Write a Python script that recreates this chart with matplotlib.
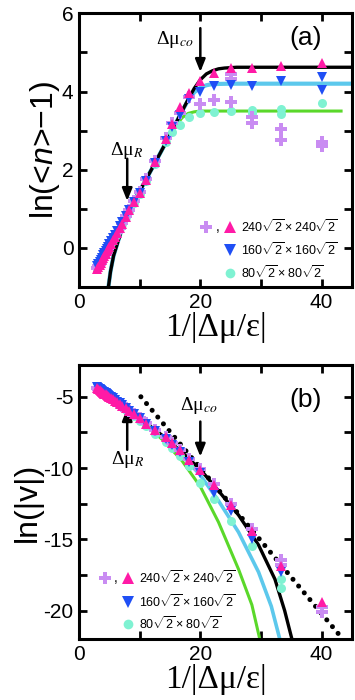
import matplotlib
matplotlib.use("Agg")
import matplotlib.pyplot as plt
from matplotlib.ticker import MultipleLocator

plt.rcParams['font.family'] = ['Liberation Sans', 'DejaVu Sans']
plt.rcParams['mathtext.fontset'] = 'custom'
plt.rcParams['mathtext.rm'] = 'Liberation Sans'
plt.rcParams['mathtext.it'] = 'Liberation Sans:italic'
plt.rcParams['mathtext.bf'] = 'Liberation Sans:bold'
plt.rcParams['axes.unicode_minus'] = False

# ---------------- data: panel (a) ----------------
x_pts = [3.0, 3.2, 3.4, 3.6, 3.8, 4.0, 4.2, 4.4, 4.6, 4.8, 5.0, 5.3, 5.6, 5.9, 6.3, 6.7, 7.1,
         7.7, 8.3, 9.1, 10.0, 11.1, 12.5, 14.3, 15.4, 16.7, 18.2, 20.0, 22.2, 25.0, 28.6, 33.3, 40.0]

pink_a = [-0.55, -0.49, -0.44, -0.38, -0.32, -0.27, -0.21, -0.15, -0.09, -0.04, 0.02, 0.11, 0.19,
          0.28, 0.39, 0.50, 0.62, 0.79, 0.96, 1.17, 1.40, 1.73, 2.20, 2.78, 3.18, 3.60, 3.95,
          4.28, 4.48, 4.60, 4.60, 4.65, 4.72]
blue_a = [-0.47, -0.42, -0.36, -0.30, -0.25, -0.19, -0.14, -0.08, -0.02, 0.03, 0.09, 0.17, 0.25,
          0.33, 0.44, 0.55, 0.66, 0.82, 0.98, 1.18, 1.40, 1.72, 2.18, 2.74, 3.10, 3.40, 3.80,
          4.00, 4.13, 4.17, 4.13, 4.26, 4.38]
blue_a_extra_x = [40.0]
blue_a_extra_y = [4.04]
cyan_a = [-0.53, -0.47, -0.42, -0.36, -0.30, -0.25, -0.19, -0.13, -0.07, -0.02, 0.04, 0.12, 0.20,
          0.29, 0.40, 0.51, 0.62, 0.78, 0.95, 1.15, 1.38, 1.70, 2.15, 2.70, 2.97, 3.15, 3.35,
          3.45, 3.47, 3.49, 3.53, 3.55, 3.70]
cyan_a_extra_x = [28.6, 33.3]
cyan_a_extra_y = [3.45, 3.43]
purple_a = [-0.52, -0.46, -0.41, -0.35, -0.29, -0.24, -0.18, -0.12, -0.06, -0.01, 0.05, 0.13, 0.21,
            0.30, 0.41, 0.52, 0.64, 0.81, 0.98, 1.19, 1.42, 1.75, 2.22, 2.80, 3.20, 3.45, 3.85,
            3.68, 3.79, 4.45, 3.35, 3.03, 2.72]
purple_a_extra_x = [25.0, 25.0, 28.6, 33.3, 40.0]
purple_a_extra_y = [4.32, 3.74, 3.19, 2.76, 2.60]

# model curves (a)
black_a_x = [4.85, 5.2, 5.7, 6.5, 7.3, 8.2, 10.0, 12.0, 14.0, 16.0, 18.0, 19.0, 20.0, 21.0, 22.0, 23.0, 24.0, 26.0, 45.0]
black_a_y = [-1.0, -0.6, -0.2, 0.2, 0.6, 0.98, 1.45, 2.02, 2.6, 3.2, 3.8, 4.08, 4.3, 4.45, 4.53, 4.58, 4.6, 4.62, 4.62]
cyan_a_cx = [4.85, 5.2, 5.7, 6.5, 7.3, 8.2, 10.0, 12.0, 14.0, 16.0, 17.0, 18.0, 19.0, 20.0, 21.0, 22.0, 25.0, 45.0]
cyan_a_cy = [-1.0, -0.6, -0.2, 0.2, 0.6, 0.98, 1.45, 2.02, 2.6, 3.2, 3.5, 3.78, 3.98, 4.1, 4.16, 4.19, 4.2, 4.2]
green_a_cx = [4.85, 5.2, 5.7, 6.5, 7.3, 8.2, 10.0, 12.0, 14.0, 15.0, 16.0, 17.0, 18.0, 19.0, 20.0, 22.0, 43.2]
green_a_cy = [-1.0, -0.6, -0.2, 0.2, 0.6, 0.98, 1.45, 2.02, 2.58, 2.88, 3.13, 3.33, 3.44, 3.48, 3.5, 3.5, 3.5]

# ---------------- data: panel (b) ----------------
pink_b = [-4.42, -4.48, -4.54, -4.60, -4.66, -4.72, -4.78, -4.84, -4.90, -4.95, -5.01, -5.10, -5.19,
          -5.28, -5.40, -5.52, -5.64, -5.82, -5.99, -6.23, -6.50, -6.88, -7.33, -7.84, -8.26, -8.72,
          -9.42, -10.16, -11.16, -12.56, -14.42, -16.86, -19.42]
blue_b = [-4.32, -4.39, -4.45, -4.52, -4.58, -4.64, -4.70, -4.76, -4.82, -4.88, -4.94, -5.03, -5.12,
          -5.22, -5.34, -5.47, -5.60, -5.78, -5.97, -6.22, -6.52, -6.92, -7.42, -7.95, -8.40, -8.90,
          -9.60, -10.35, -11.74, -13.00, -14.97, -17.30]
cyan_b = [-4.44, -4.50, -4.56, -4.62, -4.68, -4.74, -4.80, -4.86, -4.92, -4.98, -5.04, -5.13, -5.23,
          -5.32, -5.45, -5.58, -5.71, -5.90, -6.10, -6.37, -6.68, -7.08, -7.62, -8.18, -8.62, -9.18,
          -9.88, -11.04, -12.20, -13.70, -15.50, -17.80]
cyan_b_extra_x = [33.3]
cyan_b_extra_y = [-18.40]
purple_b = [-4.40, -4.46, -4.52, -4.58, -4.64, -4.70, -4.76, -4.82, -4.88, -4.93, -4.99, -5.08, -5.17,
            -5.26, -5.38, -5.50, -5.62, -5.80, -5.97, -6.21, -6.48, -6.86, -7.31, -7.82, -8.24, -8.70,
            -9.40, -10.10, -11.10, -12.50, -14.30, -16.45, -19.75]
purple_b_extra_x = [33.3, 40.0]
purple_b_extra_y = [-16.80, -20.10]

black_b_x = [3.0, 6.0, 10.0, 14.0, 17.0, 20.0, 23.0, 26.3, 29.6, 32.3, 33.9, 35.1]
black_b_y = [-4.4, -5.3, -6.5, -7.8, -8.9, -10.1, -11.6, -13.3, -15.4, -17.8, -20.0, -22.0]
cyan_b_cx = [3.0, 6.0, 10.0, 14.0, 17.0, 20.0, 23.0, 26.3, 29.6, 31.7, 33.1]
cyan_b_cy = [-4.4, -5.3, -6.55, -7.9, -9.1, -10.5, -12.3, -14.5, -17.3, -19.7, -22.0]
green_b_cx = [3.0, 6.0, 10.0, 14.0, 17.0, 20.0, 23.0, 26.3, 28.5, 29.8]
green_b_cy = [-4.4, -5.3, -6.6, -8.1, -9.5, -11.3, -13.8, -17.1, -19.6, -22.0]
dotted_b_x = [10.2, 43.1]
dotted_b_y = [-5.0, -21.8]

legend_labels = [r'$240\sqrt{2}\times240\sqrt{2}$', r'$160\sqrt{2}\times160\sqrt{2}$',
                 r'$80\sqrt{2}\times80\sqrt{2}$']

# ---------------- styles ----------------
C_PINK = '#ff1aa6'
C_BLUE = '#1f4ff5'
C_CYAN = '#7ff2d2'
C_PURP = '#c98cf2'
C_LCYAN = '#5cc8ec'
C_GREEN = '#5ad82a'

fig = plt.figure(figsize=(3.55, 7.0), dpi=100)
ax_a = fig.add_axes([0.2225, 0.590, 0.769, 0.391])
ax_b = fig.add_axes([0.2225, 0.087, 0.769, 0.391])


def style_axes(ax):
    for s in ax.spines.values():
        s.set_linewidth(2.2)
    ax.tick_params(which='both', direction='in', top=True, right=True,
                   length=6, width=2.0, labelsize=15, pad=4)
    ax.set_xlim(0, 45)
    ax.xaxis.set_major_locator(MultipleLocator(20))
    ax.xaxis.set_minor_locator(MultipleLocator(10))
    ax.set_xlabel('1/|Δμ/ε|', family='Liberation Serif', fontsize=24, labelpad=0)


def draw_markers(ax, xs, pink, blue, cyan, purple, extras):
    nb = len(blue)
    nc = len(cyan)
    ax.plot(xs[:nc] + extras['cx'], cyan + extras['cy'], 'o', color=C_CYAN, ms=6.5, mew=0, zorder=3)
    ax.plot(xs[:len(purple)] + extras['px'], purple + extras['py'], 'P', color=C_PURP, ms=8, mew=0, zorder=4)
    ax.plot(xs[:nb] + extras['bx'], blue + extras['by'], 'v', color=C_BLUE, ms=7.5, mew=0, zorder=5)
    ax.plot(xs[:len(pink)], pink, '^', color=C_PINK, ms=7.5, mew=0, zorder=6)


def draw_legend(ax, fx_plus, fx_comma, fx_mark, fx_text, fys):
    t = ax.transAxes
    ax.plot([fx_plus], [fys[0]], 'P', color=C_PURP, ms=8, mew=0, transform=t, clip_on=False, zorder=7)
    ax.text(fx_comma, fys[0], ',', transform=t, fontsize=10, ha='center', va='center')
    ax.plot([fx_mark], [fys[0]], '^', color=C_PINK, ms=8, mew=0, transform=t, zorder=7)
    ax.plot([fx_mark], [fys[1]], 'v', color=C_BLUE, ms=8, mew=0, transform=t, zorder=7)
    ax.plot([fx_mark], [fys[2]], 'o', color=C_CYAN, ms=7, mew=0, transform=t, zorder=7)
    for fy, lab in zip(fys, legend_labels):
        ax.text(fx_text, fy, lab, transform=t, fontsize=9, ha='left', va='center')


def annot(ax, text, xt, yt, x0, y0, y1):
    ax.text(xt, yt, text, family='Liberation Serif', math_fontfamily='stix', fontsize=14,
            ha='center', va='center')
    ax.annotate('', xy=(x0, y1), xytext=(x0, y0),
                arrowprops=dict(arrowstyle='-|>,head_length=0.75,head_width=0.3', color='black', lw=1.8,
                                shrinkA=0, shrinkB=0))


# ---- panel (a) ----
ax = ax_a
style_axes(ax)
ax.set_ylim(-1, 6)
ax.yaxis.set_major_locator(MultipleLocator(2))
ax.yaxis.set_minor_locator(MultipleLocator(1))
ax.plot(green_a_cx, green_a_cy, color=C_GREEN, lw=2.2, zorder=2)
ax.plot(cyan_a_cx, cyan_a_cy, color=C_LCYAN, lw=3.0, zorder=2)
ax.plot(black_a_x, black_a_y, color='black', lw=2.4, zorder=2.5)
draw_markers(ax, x_pts, pink_a, blue_a, cyan_a, purple_a,
             dict(cx=cyan_a_extra_x, cy=cyan_a_extra_y, px=purple_a_extra_x, py=purple_a_extra_y,
                  bx=blue_a_extra_x, by=blue_a_extra_y))
draw_legend(ax, 0.465, 0.509, 0.553, 0.595, [0.22, 0.135, 0.051])
ax.set_ylabel('ln(<$n$>−1)', fontsize=23, labelpad=0)
ax.text(37.4, 5.38, '(a)', fontsize=19, ha='center', va='center')
annot(ax, 'Δμ$_{co}$', 15.8, 5.34, 20.0, 5.62, 4.5)
annot(ax, 'Δμ$_{R}$', 7.8, 2.5, 7.95, 2.28, 1.2)

# ---- panel (b) ----
ax = ax_b
style_axes(ax)
ax.set_ylim(-22, -2.8)
ax.yaxis.set_major_locator(MultipleLocator(5))
ax.yaxis.set_minor_locator(MultipleLocator(2.5))
ax.plot(green_b_cx, green_b_cy, color=C_GREEN, lw=2.2, zorder=2)
ax.plot(cyan_b_cx, cyan_b_cy, color=C_LCYAN, lw=2.6, zorder=2)
ax.plot(black_b_x, black_b_y, color='black', lw=2.4, zorder=2.5)
ax.plot(dotted_b_x, dotted_b_y, color='black', lw=3.6, linestyle=(0, (0.01, 1.75)),
        dash_capstyle='round', zorder=2.5)
draw_markers(ax, x_pts, pink_b, blue_b, cyan_b, purple_b,
             dict(cx=cyan_b_extra_x, cy=cyan_b_extra_y, px=purple_b_extra_x, py=purple_b_extra_y,
                  bx=[], by=[]))
draw_legend(ax, 0.095, 0.136, 0.18, 0.218, [0.225, 0.136, 0.055])
ax.set_ylabel('ln(|v|)', fontsize=23, labelpad=0)
ax.text(37.4, -5.23, '(b)', fontsize=19, ha='center', va='center')
annot(ax, 'Δμ$_{co}$', 19.8, -5.58, 20.0, -6.74, -9.2)
annot(ax, 'Δμ$_{R}$', 8.06, -9.42, 7.95, -8.72, -5.8)

fig.savefig('out.png', dpi=100)
